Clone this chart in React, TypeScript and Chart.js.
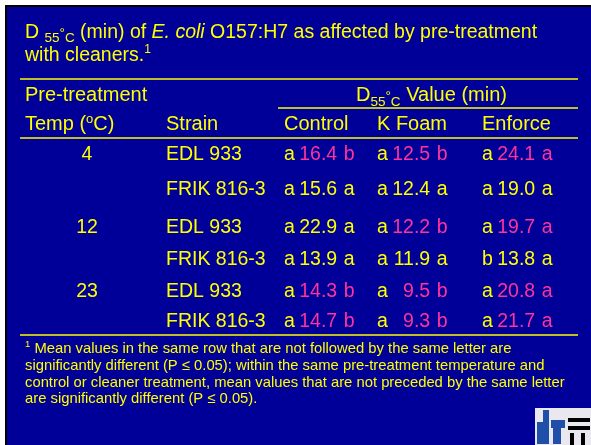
import React, { useEffect, useRef } from "react";
import { Chart, registerables } from "chart.js";

Chart.register(...registerables);

// ---------- data ----------
const temperatures = ["4", "", "12", "", "23", ""];
const strains = ["EDL 933", "FRIK 816-3", "EDL 933", "FRIK 816-3", "EDL 933", "FRIK 816-3"];
const treatments = ["Control", "K Foam", "Enforce"];

const controlValues = [16.4, 15.6, 22.9, 13.9, 14.3, 14.7];
const kFoamValues = [12.5, 12.4, 12.2, 11.9, 9.5, 9.3];
const enforceValues = [24.1, 19.0, 19.7, 13.8, 20.8, 21.7];

const controlPre = ["a", "a", "a", "a", "a", "a"];
const controlPost = ["b", "a", "a", "a", "b", "b"];
const kFoamPre = ["a", "a", "a", "a", "a", "a"];
const kFoamPost = ["b", "a", "b", "a", "b", "b"];
const enforcePre = ["a", "a", "a", "b", "a", "a"];
const enforcePost = ["a", "a", "a", "a", "a", "a"];

const controlHighlight = [true, false, false, false, true, true];
const kFoamHighlight = [true, false, true, false, true, true];
const enforceHighlight = [true, false, true, false, true, true];

const footnoteLines = [
  " Mean values in the same row that are not followed by the same letter are",
  "significantly different (P \u2264 0.05); within the same pre-treatment temperature and",
  "control or cleaner treatment, mean values that are not preceded by the same letter",
  "are significantly different (P \u2264 0.05).",
];

// ---------- layout (scale units) ----------
const COL_X = [87, 166, 284, 377, 482]; // temp (center), strain, control, k foam, enforce
const ROW_Y = [155, 190, 228, 260, 292, 322];
const TITLE_Y = [33, 56];
const HEADER_Y = [96, 125];
const RULES = [
  { y: 79, x0: 20, x1: 578 },
  { y: 108, x0: 278, x1: 578 },
  { y: 138, x0: 20, x1: 578 },
  { y: 335, x0: 20, x1: 578 },
];
const FOOT_Y = [348, 365, 382, 398];

const YELLOW = "#FFFF00";
const PINK = "#FF3399";
const BLUE = "#000099";
const FONT = "'Liberation Sans', Arial, sans-serif";
const BASE = 5;

type Seg = { t: string; size: number; dy?: number; italic?: boolean; color?: string };

function drawSegs(ctx: CanvasRenderingContext2D, segs: Seg[], x: number, y: number) {
  let cx = x;
  for (const s of segs) {
    ctx.font = `${s.italic ? "italic " : ""}${s.size}px ${FONT}`;
    ctx.fillStyle = s.color || YELLOW;
    ctx.fillText(s.t, cx, y + (s.dy || 0));
    cx += ctx.measureText(s.t).width;
  }
}

const valueSets = [
  { values: controlValues, pre: controlPre, post: controlPost, hl: controlHighlight },
  { values: kFoamValues, pre: kFoamPre, post: kFoamPost, hl: kFoamHighlight },
  { values: enforceValues, pre: enforcePre, post: enforcePost, hl: enforceHighlight },
];

const tablePlugin = {
  id: "tablePlugin",
  beforeDraw(chart: any) {
    const ctx: CanvasRenderingContext2D = chart.ctx;
    const { width, height } = chart;
    ctx.save();
    ctx.fillStyle = "#ffffff";
    ctx.fillRect(0, 0, width, height);
    ctx.fillStyle = "#000000";
    ctx.fillRect(5, 5, width, height);
    ctx.fillStyle = BLUE;
    ctx.fillRect(7, 7, width, height);
    ctx.restore();
  },
  afterDatasetsDraw(chart: any) {
    const ctx: CanvasRenderingContext2D = chart.ctx;
    const xs = chart.scales.x;
    const ys = chart.scales.y;
    const px = (v: number) => xs.getPixelForValue(v);
    const py = (v: number) => ys.getPixelForValue(v);
    ctx.save();
    ctx.textBaseline = "alphabetic";
    ctx.textAlign = "left";

    // title
    drawSegs(ctx, [
      { t: "D ", size: 19.5 },
      { t: "55", size: 13.5, dy: 4 },
      { t: "\u00B0", size: 13.5, dy: -1 },
      { t: "C", size: 13.5, dy: 4 },
      { t: " (min) of ", size: 19.5 },
      { t: "E. coli", size: 19.5, italic: true },
      { t: " O157:H7 as affected by pre-treatment", size: 19.5 },
    ], px(25), py(TITLE_Y[0]) + BASE);
    drawSegs(ctx, [
      { t: "with cleaners.", size: 19.5 },
      { t: "1", size: 12, dy: -8 },
    ], px(25), py(TITLE_Y[1]) + BASE);

    // rules
    ctx.strokeStyle = YELLOW;
    ctx.lineWidth = 1.5;
    for (const r of RULES) {
      ctx.beginPath();
      ctx.moveTo(px(r.x0), py(r.y));
      ctx.lineTo(px(r.x1), py(r.y));
      ctx.stroke();
    }

    // headers
    drawSegs(ctx, [{ t: "Pre-treatment", size: 20 }], px(25), py(HEADER_Y[0]) + BASE);
    drawSegs(ctx, [
      { t: "D", size: 20 },
      { t: "55", size: 13.5, dy: 5 },
      { t: "\u00B0", size: 13.5, dy: -1 },
      { t: "C", size: 13.5, dy: 5 },
      { t: " Value (min)", size: 20 },
    ], px(356), py(HEADER_Y[0]) + BASE);
    drawSegs(ctx, [
      { t: "Temp (", size: 20 },
      { t: "o", size: 13, dy: -7 },
      { t: "C)", size: 20 },
    ], px(25), py(HEADER_Y[1]) + BASE);
    drawSegs(ctx, [{ t: "Strain", size: 20 }], px(COL_X[1]), py(HEADER_Y[1]) + BASE);
    treatments.forEach((t, i) => {
      drawSegs(ctx, [{ t, size: 20 }], px(COL_X[2 + i]), py(HEADER_Y[1]) + BASE);
    });

    // cells from dataset elements
    const size = 19.5;
    ctx.font = `${size}px ${FONT}`;
    const preW = ctx.measureText("a ").width;
    const numW = ctx.measureText("00.0").width;
    const spW = ctx.measureText(" ").width;
    chart.data.datasets.forEach((ds: any, di: number) => {
      const meta = chart.getDatasetMeta(di);
      meta.data.forEach((el: any, i: number) => {
        const x = el.x;
        const y = el.y + BASE;
        ctx.font = `${size}px ${FONT}`;
        if (ds.kind === "temp") {
          ctx.fillStyle = YELLOW;
          ctx.textAlign = "center";
          ctx.fillText(ds.labels[i], x, y);
          ctx.textAlign = "left";
        } else if (ds.kind === "strain") {
          ctx.fillStyle = YELLOW;
          ctx.fillText(strains[i], x, y);
        } else {
          const set = valueSets[ds.setIndex];
          const color = set.hl[i] ? PINK : YELLOW;
          ctx.fillStyle = YELLOW;
          ctx.fillText(set.pre[i], x, y);
          ctx.fillStyle = color;
          ctx.textAlign = "right";
          ctx.fillText(set.values[i].toFixed(1), x + preW + numW - 1, y);
          ctx.textAlign = "left";
          ctx.fillText(set.post[i], x + preW + numW + spW, y);
        }
      });
    });

    // footnote
    FOOT_Y.forEach((fy, i) => {
      const segs: Seg[] = [];
      if (i === 0) segs.push({ t: "1", size: 9.5, dy: -6 });
      segs.push({ t: footnoteLines[i], size: 14.8 });
      drawSegs(ctx, segs, px(25), py(fy) + 5);
    });

    // logo (decorative)
    const lx = px(535), ly = py(408);
    ctx.fillStyle = "#e8e8ee";
    ctx.fillRect(lx, ly, 56, 37);
    ctx.fillStyle = "#1f4fa8";
    ctx.fillRect(lx + 2, ly + 14, 7, 22);
    ctx.fillRect(lx + 8, ly + 2, 6, 34);
    ctx.fillRect(lx + 16, ly + 12, 14, 8);
    ctx.fillRect(lx + 18, ly + 20, 8, 16);
    ctx.fillStyle = "#000000";
    ctx.fillRect(lx + 33, ly + 10, 22, 4);
    ctx.fillRect(lx + 33, ly + 18, 22, 4);
    ctx.fillRect(lx + 35, ly + 25, 4, 12);
    ctx.fillRect(lx + 46, ly + 25, 4, 12);
    ctx.restore();
  },
};

export default function App() {
  const ref = useRef<HTMLCanvasElement>(null);
  useEffect(() => {
    document.body.style.margin = "0";
    const canvas = ref.current!;
    const tempRows = temperatures.map((_, i) => i).filter((i) => temperatures[i] !== "");
    const datasets: any[] = [
      {
        kind: "temp",
        labels: tempRows.map((i) => temperatures[i]),
        data: tempRows.map((i) => ({ x: COL_X[0], y: ROW_Y[i] })),
      },
      { kind: "strain", data: strains.map((_, i) => ({ x: COL_X[1], y: ROW_Y[i] })) },
      ...valueSets.map((s, si) => ({
        kind: "value",
        setIndex: si,
        label: treatments[si],
        data: s.values.map((_, i) => ({ x: COL_X[2 + si], y: ROW_Y[i] })),
      })),
    ];
    const chart = new Chart(canvas, {
      type: "scatter",
      data: { datasets: datasets.map((d) => ({ ...d, pointRadius: 0, pointHoverRadius: 0 })) },
      options: {
        animation: false,
        responsive: false,
        events: [],
        layout: { padding: 0 },
        plugins: { legend: { display: false }, tooltip: { enabled: false } },
        scales: {
          x: { type: "linear", min: 0, max: 591, display: false },
          y: { type: "linear", min: 0, max: 445, reverse: true, display: false },
        },
      },
      plugins: [tablePlugin as any],
    });
    return () => chart.destroy();
  }, []);
  return <canvas ref={ref} width={591} height={445} style={{ display: "block" }} />;
}
